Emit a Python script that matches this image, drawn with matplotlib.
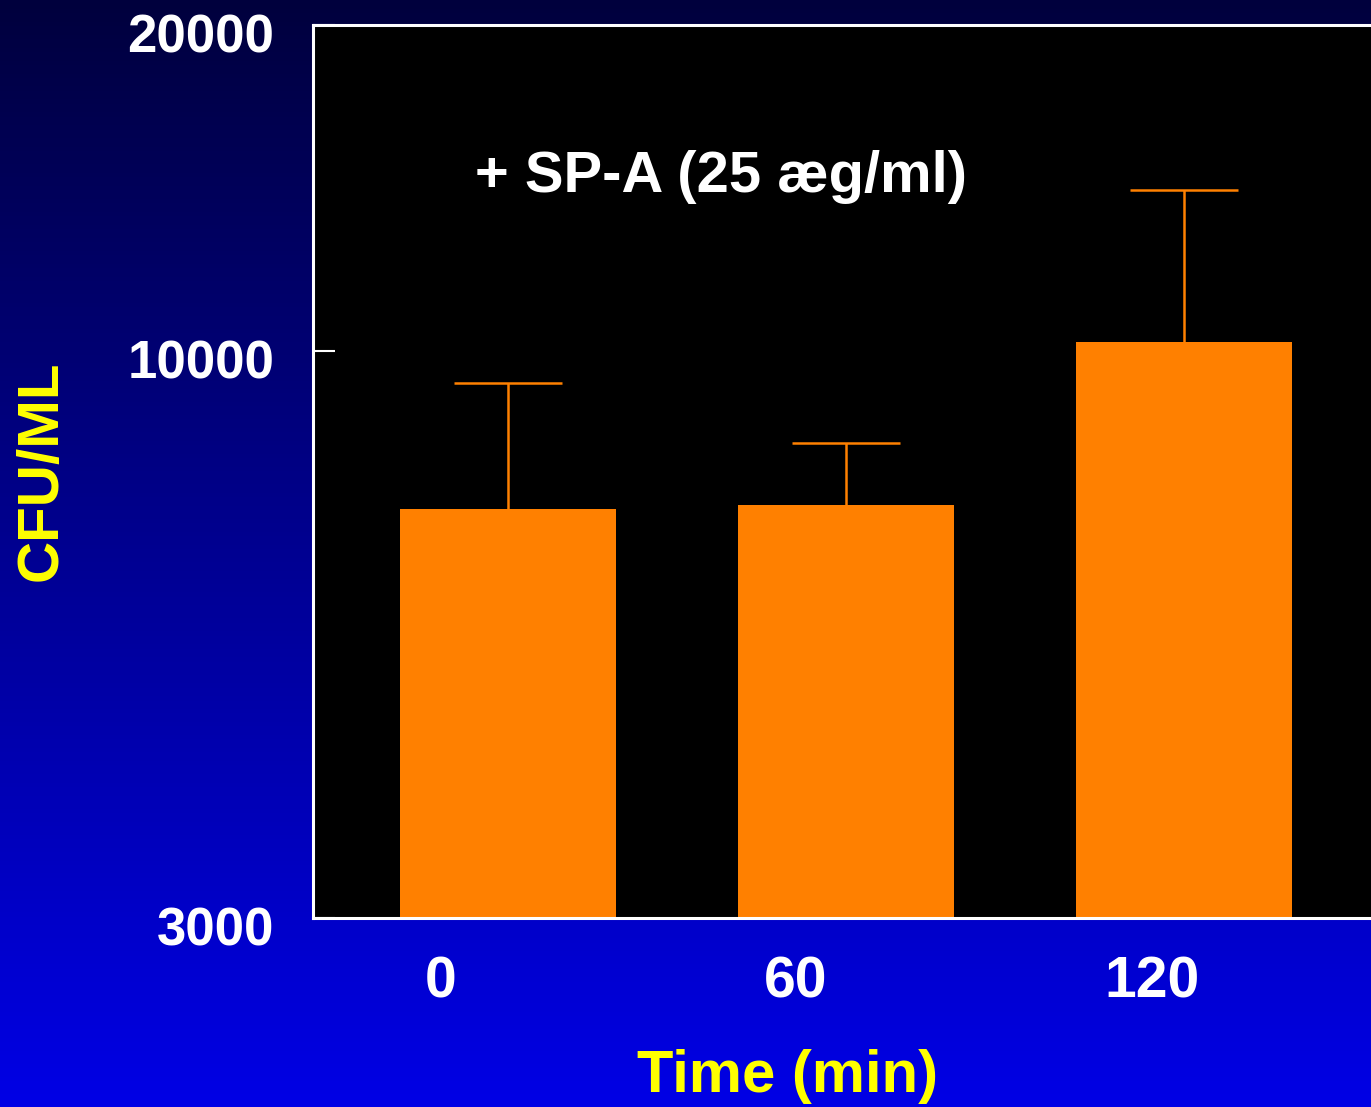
"""CFU/ML over time with SP-A, log y axis, slide-style gradient background."""

import matplotlib
matplotlib.use("Agg")
import matplotlib.pyplot as plt
import matplotlib.transforms as mtransforms
import numpy as np

times = ["0", "60", "120"]
cfu = [7150, 7210, 10200]
cfu_err_top = [9350, 8230, 14100]

plt.rcParams["font.family"] = ["Liberation Sans", "DejaVu Sans"]
plt.rcParams["font.weight"] = "bold"

fig = plt.figure(figsize=(13.71, 11.07), dpi=100)

# gradient background: dark navy at top -> bright blue at bottom
bg = fig.add_axes([0, 0, 1, 1], zorder=-10)
grad = np.linspace(0, 1, 256)[:, None, None]
top = np.array([0.0, 0.0, 0.24])
bot = np.array([0.0, 0.0, 0.90])
img = top + (bot - top) * grad
bg.imshow(img, aspect="auto", extent=[0, 1, 0, 1])
bg.axis("off")

x = np.arange(len(times))
ax = fig.add_axes([313 / 1371, 189 / 1107, 1 - 313 / 1371, 893 / 1107])
ax.set_facecolor("black")
ax.bar(x, cfu, width=0.64, color="#FF8000", zorder=2)
yerr = [np.zeros(len(cfu)), np.array(cfu_err_top) - np.array(cfu)]
_, caps, _ = ax.errorbar(x, cfu, yerr=yerr, fmt="none", ecolor="#FF8000",
                         elinewidth=1.8, capsize=39, capthick=1.8, zorder=3)
caps[0].set_visible(False)  # only the upper whisker has a cap

ax.set_yscale("log")
ax.set_ylim(3000, 20000)
ax.set_xlim(-0.577, 2.553)
ax.set_yticks([3000, 10000, 20000])
ax.set_yticklabels(["3000", "10000", "20000"])
ax.minorticks_off()
ax.tick_params(axis="y", direction="in", length=16, width=1.5, color="white",
               labelcolor="white", labelsize=38, pad=28)
for lab in ax.get_yticklabels():
    lab.set_transform(lab.get_transform() +
                      mtransforms.ScaledTranslation(0, -8 / 100, fig.dpi_scale_trans))

# category labels sit a bit left of the bar centres, as on the slide
ax.set_xticks([-0.198, 0.852, 1.905])
ax.set_xticklabels(times)
ax.tick_params(axis="x", length=0, labelcolor="white", labelsize=41, pad=27)

for side in ("left", "bottom", "top"):
    ax.spines[side].set_color("white")
    ax.spines[side].set_linewidth(2.2)
ax.spines["right"].set_visible(False)

ax.text(0.153, 0.83, "+ SP-A (25 æg/ml)", transform=ax.transAxes,
        color="white", fontsize=41.7, fontweight="bold", va="center", ha="left")

fig.text(42 / 1371, 1 - 471 / 1107, "CFU/ML", rotation=90, color="#FFFF00",
         fontsize=42, fontweight="bold", ha="center", va="center")
fig.text(788 / 1371, 1 - 1077 / 1107, "Time (min)", color="#FFFF00",
         fontsize=43, fontweight="bold", ha="center", va="center")

fig.savefig("out.png", dpi=100, facecolor=fig.get_facecolor())
